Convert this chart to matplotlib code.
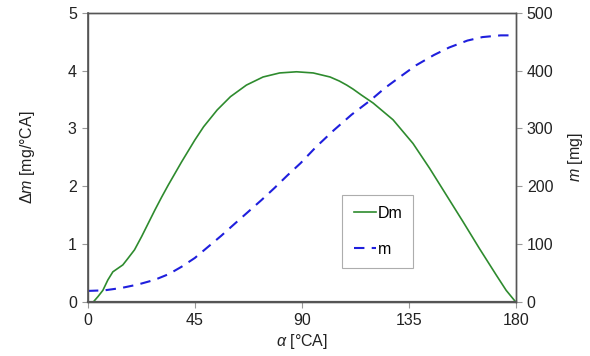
import matplotlib
matplotlib.use("Agg")
import matplotlib.pyplot as plt

plt.rcParams['font.family'] = ['Liberation Sans', 'DejaVu Sans']
plt.rcParams['mathtext.fontset'] = 'custom'
plt.rcParams['mathtext.rm'] = 'Liberation Sans'
plt.rcParams['mathtext.it'] = 'Liberation Sans:italic'

# Dm curve [mg/°CA] vs crank angle
dm_angle = [2.3, 4.2, 6.3, 8.4, 10.5, 12.6, 14.7, 16.8, 19.6, 22.6, 25.4, 28.2, 31, 33.8,
            36.6, 39.4, 42.2, 45, 48.7, 54.4, 60, 66.7, 73.7, 80.7, 87.8, 94.8, 101.9,
            105.8, 108.9, 111.6, 115, 120, 128.4, 136.8, 143.8, 150.8, 157.8, 164.8,
            171.9, 176, 179.6]
dm_values = [0, 0.09, 0.2, 0.38, 0.52, 0.58, 0.64, 0.75, 0.9, 1.13, 1.36, 1.59, 1.81, 2.02,
             2.22, 2.42, 2.61, 2.80, 3.03, 3.32, 3.55, 3.75, 3.89, 3.96, 3.98, 3.96, 3.89,
             3.82, 3.75, 3.68, 3.58, 3.44, 3.15, 2.74, 2.31, 1.85, 1.39, 0.92,
             0.46, 0.2, 0.02]

# m curve [mg] vs crank angle
m_angle = [0, 7, 14, 21, 28, 34, 39.5, 45, 50.5, 56, 62, 67.5, 73, 78.5, 84, 89.5, 96,
           103.5, 111, 119, 125, 131.6, 138, 145.6, 152, 159.7, 166, 173.7, 180]
m_values = [19, 20, 24, 30, 38, 48, 61, 76, 95, 114, 136, 156, 176, 197, 219, 240, 268,
            297, 324, 349, 370, 390, 409, 427, 440, 452, 458, 461, 461]

x_ticks = [0, 45, 90, 135, 180]

fig = plt.figure(figsize=(5.9, 3.56), dpi=100)
ax = fig.add_axes([0.149, 0.152, 0.725, 0.812])
ax2 = ax.twinx()

green = '#2e8b2e'
blue = '#1f1fdd'
l1, = ax.plot(dm_angle, dm_values, color=green, lw=1.2, label='Dm')
l2, = ax2.plot(m_angle, m_values, color=blue, lw=1.5, ls=(0, (5, 3.5)), label='m')

ax.set_xlim(0, 180)
ax.set_ylim(0, 5)
ax2.set_ylim(0, 500)
ax.set_xticks(x_ticks)
ax.set_yticks([0, 1, 2, 3, 4, 5])
ax2.set_yticks([0, 100, 200, 300, 400, 500])

fs = 11.5
for a in (ax, ax2):
    a.tick_params(direction='out', length=4, width=0.8, color='#999999', labelsize=fs,
                  labelcolor='#222222', pad=4)
    for s in a.spines.values():
        s.set_color('#555555')
        s.set_linewidth(1.0)
ax.spines['bottom'].set_linewidth(1.6)
ax.spines['left'].set_linewidth(1.2)

ax.set_xlabel(r'$\alpha$ [°CA]', fontsize=fs, color='#222222', labelpad=3)
ax.set_ylabel(r'$\Delta m$ [mg/°CA]', fontsize=fs, color='#222222', labelpad=22)
ax2.set_ylabel(r'$m$ [mg]', fontsize=fs, color='#222222', labelpad=9)

leg = ax.legend(handles=[l1, l2], loc='lower left', bbox_to_anchor=(0.595, 0.118),
                fontsize=fs, frameon=True, fancybox=False, handlelength=1.4,
                handletextpad=0.1, labelspacing=1.3, borderpad=0.7, borderaxespad=0)
leg.get_frame().set_edgecolor('#999999')
leg.get_frame().set_linewidth(0.8)

fig.savefig('out.png', dpi=100)
